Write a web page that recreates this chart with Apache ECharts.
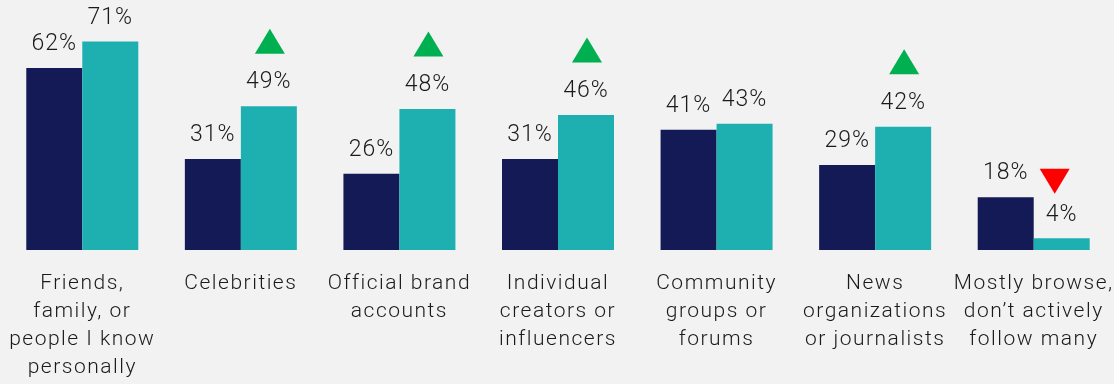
<!DOCTYPE html>
<html>
<head>
<meta charset="utf-8">
<script src="https://cdn.jsdelivr.net/npm/echarts@6/dist/echarts.min.js"></script>
<style>
  html, body { margin: 0; padding: 0; background: #f2f2f2; }
  #chart { width: 1114px; height: 384px; }
</style>
</head>
<body>
<div id="chart"></div>
<script>
const categories = [
  "Friends,\nfamily, or\npeople I know\npersonally",
  "Celebrities",
  "Official brand\naccounts",
  "Individual\ncreators or\ninfluencers",
  "Community\ngroups or\nforums",
  "News\norganizations\nor journalists",
  "Mostly browse,\ndon\u2019t actively\nfollow many"
];
const previousValues = [62, 31, 26, 31, 41, 29, 18];
const currentValues = [71, 49, 48, 46, 43, 42, 4];
const changes = ["", "up", "up", "up", "", "up", "down"];

const upPoints = [];
const downPoints = [];
changes.forEach((c, i) => {
  if (c === "up") upPoints.push([i, currentValues[i]]);
  if (c === "down") downPoints.push([i, currentValues[i]]);
});

// wider tracking for drawn text (visual only)
(function () {
  const proto = CanvasRenderingContext2D.prototype;
  const origFill = proto.fillText;
  proto.fillText = function () {
    try {
      this.letterSpacing = /21px/.test(this.font) ? "1.5px" : "1px";
    } catch (e) {}
    return origFill.apply(this, arguments);
  };
})();

const chart = echarts.init(document.getElementById("chart"), null, { renderer: "canvas" });
const labelStyle = {
  show: true,
  position: "top",
  distance: 12,
  formatter: "{c}%",
  fontFamily: "Roboto",
  fontWeight: 300,
  fontSize: 23,
  color: "#1a1a1a"
};
chart.setOption({
  backgroundColor: "#f2f2f2",
  animation: false,
  grid: { left: 3, right: 1, top: 15.2, bottom: 134, containLabel: false },
  xAxis: {
    type: "category",
    data: categories,
    axisLine: { show: false },
    axisTick: { show: false },
    axisLabel: {
      interval: 0,
      margin: 20,
      fontFamily: "Roboto",
      fontWeight: 300,
      fontSize: 21,
      lineHeight: 28,
      color: "#1a1a1a",
      align: "center"
    }
  },
  yAxis: { type: "value", min: 0, max: 80, show: false },
  series: [
    {
      type: "bar",
      data: previousValues,
      barWidth: 56,
      barGap: "0%",
      itemStyle: { color: "#131a56" },
      label: labelStyle
    },
    {
      type: "bar",
      data: currentValues,
      barWidth: 56,
      barGap: "0%",
      itemStyle: { color: "#1eb0b0" },
      label: labelStyle
    },
    {
      type: "scatter",
      data: upPoints,
      symbol: "triangle",
      symbolSize: [30, 25],
      symbolOffset: [29, -65],
      itemStyle: { color: "#00b050", opacity: 1 },
      z: 10
    },
    {
      type: "scatter",
      data: downPoints,
      symbol: "triangle",
      symbolRotate: 180,
      symbolSize: [30, 25],
      symbolOffset: [21, -57],
      itemStyle: { color: "#ff0000", opacity: 1 },
      z: 10
    }
  ]
});
</script>
</body>
</html>
